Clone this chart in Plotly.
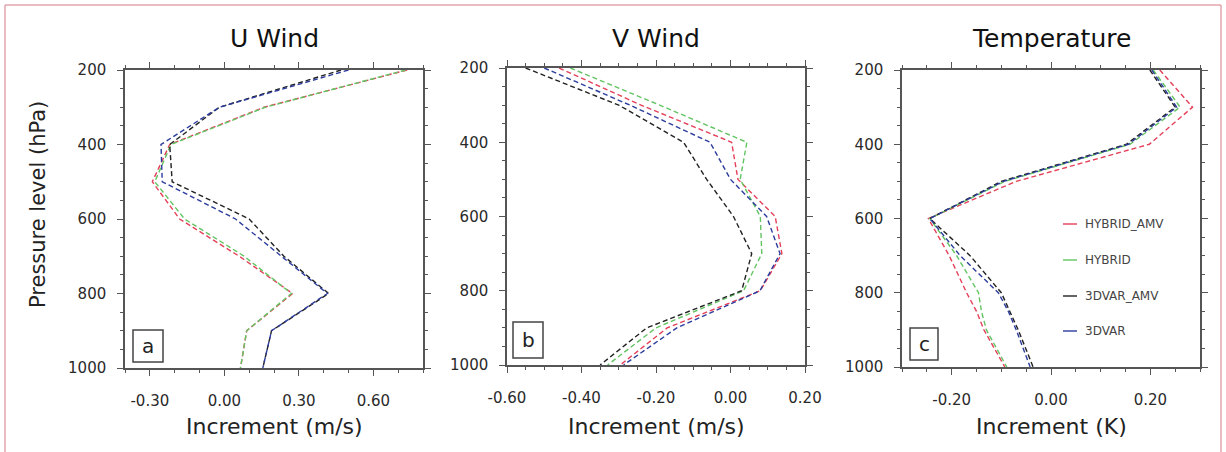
import plotly.graph_objects as go

# ---------------- data ----------------
levels = [200, 300, 400, 500, 600, 700, 800, 900, 1000]
levels_t = [200, 300, 400, 500, 600, 700, 800, 850, 900, 1000]

series_names = ["HYBRID_AMV", "HYBRID", "3DVAR_AMV", "3DVAR"]
series_colors = ["#e4405a", "#62c462", "#222222", "#2c3c9c"]

u_hybrid_amv = [0.736, 0.16, -0.22, -0.29, -0.18, 0.06, 0.275, 0.09, 0.065]
u_hybrid = [0.73, 0.165, -0.215, -0.28, -0.16, 0.08, 0.27, 0.09, 0.065]
u_3dvar_amv = [0.47, -0.02, -0.22, -0.21, 0.10, 0.24, 0.42, 0.19, 0.155]
u_3dvar = [0.50, -0.02, -0.255, -0.25, 0.045, 0.23, 0.415, 0.19, 0.155]

v_hybrid_amv = [-0.46, -0.24, 0.003, 0.02, 0.12, 0.138, 0.08, -0.17, -0.296]
v_hybrid = [-0.43, -0.19, 0.044, 0.026, 0.08, 0.084, 0.035, -0.20, -0.33]
v_3dvar_amv = [-0.55, -0.30, -0.126, -0.064, 0.008, 0.057, 0.03, -0.225, -0.35]
v_3dvar = [-0.50, -0.27, -0.055, 0.0, 0.097, 0.133, 0.079, -0.144, -0.287]

t_hybrid_amv = [0.219, 0.285, 0.198, -0.07, -0.247, -0.205, -0.17, -0.15, -0.135, -0.093]
t_hybrid = [0.206, 0.26, 0.159, -0.093, -0.244, -0.19, -0.146, -0.14, -0.13, -0.089]
t_3dvar_amv = [0.199, 0.25, 0.152, -0.10, -0.244, -0.163, -0.10, -0.083, -0.066, -0.036]
t_3dvar = [0.203, 0.253, 0.156, -0.096, -0.244, -0.183, -0.106, -0.086, -0.07, -0.042]

panel_titles = ["U Wind", "V Wind", "Temperature"]
panel_letters = ["a", "b", "c"]
x_titles = ["Increment (m/s)", "Increment (m/s)", "Increment (K)"]
x_ticks_u = [-0.3, 0.0, 0.3, 0.6]
x_ticks_v = [-0.6, -0.4, -0.2, 0.0, 0.2]
x_ticks_t = [-0.2, 0.0, 0.2]
y_ticks = [200, 400, 600, 800, 1000]

# ---------------- layout geometry (pixels) ----------------
W, H = 1226, 452
boxes = [  # left, right, top, bottom
    (125, 423, 70, 368),
    (507, 805, 68, 365),
    (902, 1200, 70, 367),
]
x_ranges = [[-0.4, 0.8], [-0.6, 0.2], [-0.3, 0.3]]
x_minor = [0.1, 0.05, 0.05]


def px(x):
    return x / W


def py(y):
    return 1 - y / H


def label(x, y, text, size, color="#222222", family="DejaVu Sans", **kw):
    opts = dict(xanchor="center", yanchor="middle")
    opts.update(kw)
    fig.add_annotation(x=px(x), y=py(y), xref="paper", yref="paper",
                       text=text, showarrow=False,
                       font=dict(family=family, size=size, color=color), **opts)


fig = go.Figure()

panels = [
    (levels, [u_hybrid_amv, u_hybrid, u_3dvar_amv, u_3dvar], x_ticks_u),
    (levels, [v_hybrid_amv, v_hybrid, v_3dvar_amv, v_3dvar], x_ticks_v),
    (levels_t, [t_hybrid_amv, t_hybrid, t_3dvar_amv, t_3dvar], x_ticks_t),
]

FONT = "DejaVu Sans"
AXC = "#555555"
TXT = "#2a2a2a"

for i, (lev, data, xt) in enumerate(panels):
    xa = "x" if i == 0 else f"x{i+1}"
    ya = "y" if i == 0 else f"y{i+1}"
    for name, col, vals in zip(series_names, series_colors, data):
        fig.add_trace(go.Scatter(
            x=vals, y=lev, mode="lines", name=name, showlegend=False,
            line=dict(color=col, width=1.4, dash="5px,3px"),
            xaxis=xa, yaxis=ya,
        ))
    l, r, t, b = boxes[i]
    axis_common = dict(
        automargin=False,
        showline=True, linecolor=AXC, linewidth=1.5, mirror="ticks",
        ticks="outside", ticklen=6, tickwidth=1.3, tickcolor=AXC,
        showgrid=False, zeroline=False,
        tickfont=dict(family=FONT, size=15, color=TXT),
    )
    fig.layout[("xaxis" if i == 0 else f"xaxis{i+1}")] = dict(
        domain=[px(l), px(r)], anchor=ya, range=x_ranges[i],
        tickvals=xt, ticktext=[f"{v:.2f}" for v in xt],
        ticklabelstandoff=12,
        minor=dict(dtick=x_minor[i], tick0=0, ticks="outside", ticklen=3,
                   tickcolor=AXC, tickwidth=1.1),
        **axis_common,
    )
    fig.layout[("yaxis" if i == 0 else f"yaxis{i+1}")] = dict(
        domain=[py(b), py(t)], anchor=xa, range=[1000, 200],
        tickvals=y_ticks, ticktext=[str(v) for v in y_ticks],
        ticklabelstandoff=8,
        minor=dict(dtick=50, tick0=0, ticks="outside", ticklen=3,
                   tickcolor=AXC, tickwidth=1.1),
        **axis_common,
    )
    cx = (l + r) / 2
    label(cx, 39, panel_titles[i], 25, color="#111111")
    label(cx, 426, x_titles[i], 22)

# panel letters in boxes
letter_boxes = [(133, 163, 330, 362), (513, 543, 322, 358), (910, 938, 328, 360)]
for letter, (l, r, t, b) in zip(panel_letters, letter_boxes):
    fig.add_shape(type="rect", xref="paper", yref="paper",
                  x0=px(l), x1=px(r), y0=py(b), y1=py(t),
                  line=dict(color="#444444", width=1.5), fillcolor="white")
    label((l + r) / 2, (t + b) / 2, letter, 20)

# y-axis title
label(38, 205, "Pressure level (hPa)", 21, textangle=-90)

# legend inside the temperature panel
leg_y = [224, 260, 296, 331]
for name, col, yy in zip(series_names, series_colors, leg_y):
    fig.add_shape(type="line", xref="paper", yref="paper",
                  x0=px(1063), x1=px(1077), y0=py(yy), y1=py(yy),
                  line=dict(color=col, width=1.4))
    label(1083, yy, name, 12, color="#444444", xanchor="left")

# thin pink frame around the figure
for x0, y0, x1, y1 in [(5, 5, 1221, 5), (5, 5, 5, 452), (1221, 5, 1221, 452)]:
    fig.add_shape(type="line", xref="paper", yref="paper",
                  x0=px(x0), x1=px(x1), y0=py(y0), y1=py(y1),
                  line=dict(color="#e3a5ad", width=1.5))

fig.update_layout(
    template="none",
    width=W, height=H, margin=dict(l=0, r=0, t=0, b=0, autoexpand=False),
    paper_bgcolor="white", plot_bgcolor="white", showlegend=False,
)

fig.write_html("out.html")
